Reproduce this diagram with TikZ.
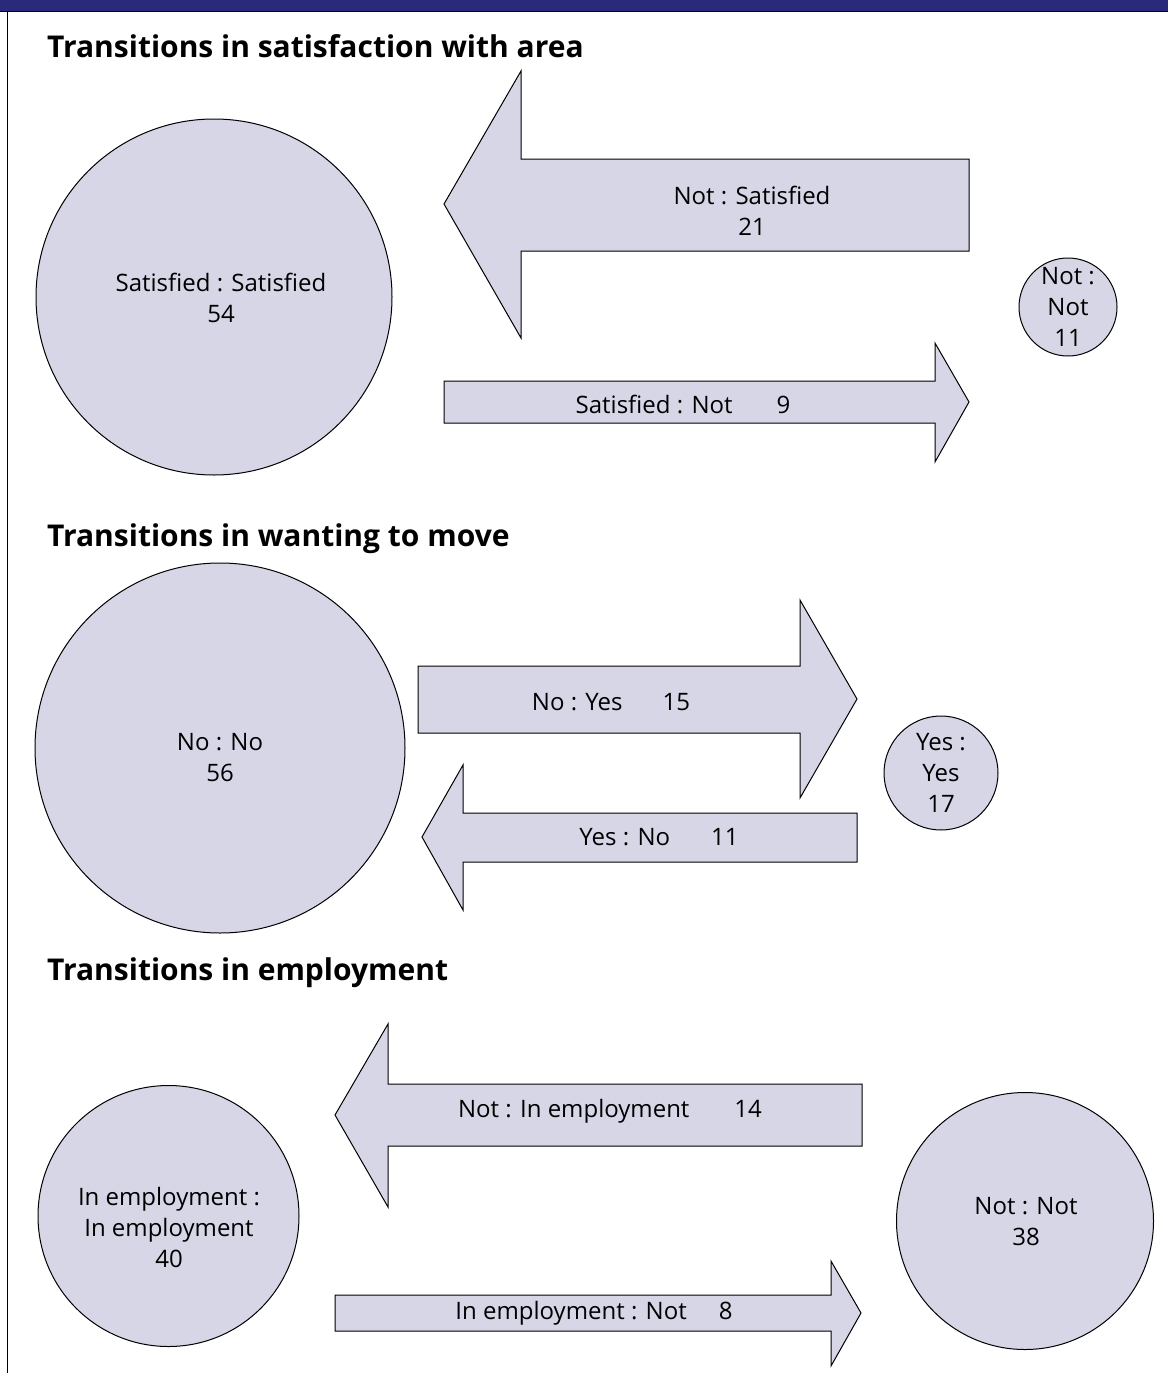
\documentclass[tikz,border=0pt]{standalone}
\usepackage{fontspec}
\setmainfont{Open Sans}
\definecolor{fillc}{RGB}{214,214,230}
\definecolor{bandc}{RGB}{43,42,122}
\begin{document}
\begin{tikzpicture}[x=1pt,y=-1pt,
  shapebox/.style={draw=black,line width=1pt,fill=fillc,line join=miter},
  lbl/.style={align=center,font=\fontsize{24}{31}\selectfont,inner sep=0pt},
  ttl/.style={anchor=base west,font=\fontsize{30}{36}\selectfont\bfseries,inner sep=0pt}]
\useasboundingbox (0,0) rectangle (1168,1373);
% top band and frame
\fill[bandc] (0,0) rectangle (1168,11);
\draw[line width=1.5pt] (0,11.5) -- (1168,11.5);
\draw[line width=1.5pt] (7.5,11.5) -- (7.5,1373);

% ---------- Section 1 ----------
\node[ttl] (t1) at (47,57) {Transitions in satisfaction with area};
\node[shapebox,circle,minimum size=356pt,inner sep=0pt] (c1a) at (214,297) {};
\node[lbl] (c1alab) at (221,298) {Satisfied : Satisfied\\54};
\node[shapebox,circle,minimum size=98pt,inner sep=0pt] (c1b) at (1068,307) {};
\node[lbl] (c1blab) at (1068,307) {Not :\\Not\\11};
\draw[shapebox] (444,204) -- (521,71) -- (521,159) -- (969,159) -- (969,251) -- (521,251) -- (521,338) -- cycle;
\node[lbl] (a1lab) at (752,211) {Not : Satisfied\\21};
\draw[shapebox] (444,381) -- (935,381) -- (935,343) -- (969,402) -- (935,462) -- (935,423) -- (444,423) -- cycle;
\node[lbl] (a2lab) at (683,404) {Satisfied : Not\hspace{44pt}9};

% ---------- Section 2 ----------
\node[ttl] (t2) at (47,546) {Transitions in wanting to move};
\node[shapebox,circle,minimum size=370pt,inner sep=0pt] (c2a) at (220,748) {};
\node[lbl] (c2alab) at (220,758) {No : No\\56};
\node[shapebox,circle,minimum size=114pt,inner sep=0pt] (c2b) at (941,773) {};
\node[lbl] (c2blab) at (941,773) {Yes :\\Yes\\17};
\draw[shapebox] (418,666) -- (800,666) -- (800,600) -- (857,699) -- (800,798) -- (800,733) -- (418,733) -- cycle;
\node[lbl] (a3lab) at (611,702) {No : Yes\hspace{40pt}15};
\draw[shapebox] (422,837) -- (463,765) -- (463,813) -- (857,813) -- (857,862) -- (463,862) -- (463,910) -- cycle;
\node[lbl] (a4lab) at (659,837) {Yes : No\hspace{41pt}11};

% ---------- Section 3 ----------
\node[ttl] (t3) at (47,980) {Transitions in employment};
\node[shapebox,circle,minimum size=261pt,inner sep=0pt] (c3a) at (168.5,1216) {};
\node[lbl] (c3alab) at (169,1227) {In employment :\\In employment\\40};
\node[shapebox,circle,minimum size=257pt,inner sep=0pt] (c3b) at (1025,1221) {};
\node[lbl] (c3blab) at (1026,1222) {Not : Not\\38};
\draw[shapebox] (335,1115) -- (388,1024) -- (388,1084) -- (862,1084) -- (862,1146) -- (388,1146) -- (388,1207) -- cycle;
\node[lbl] (a5lab) at (610,1111) {Not : In employment\hspace{45pt}14};
\draw[shapebox] (335,1295) -- (831,1295) -- (831,1261) -- (861,1313) -- (831,1366) -- (831,1331) -- (335,1331) -- cycle;
\node[lbl] (a6lab) at (594,1313) {In employment : Not\hspace{32pt}8};
\end{tikzpicture}
\end{document}
